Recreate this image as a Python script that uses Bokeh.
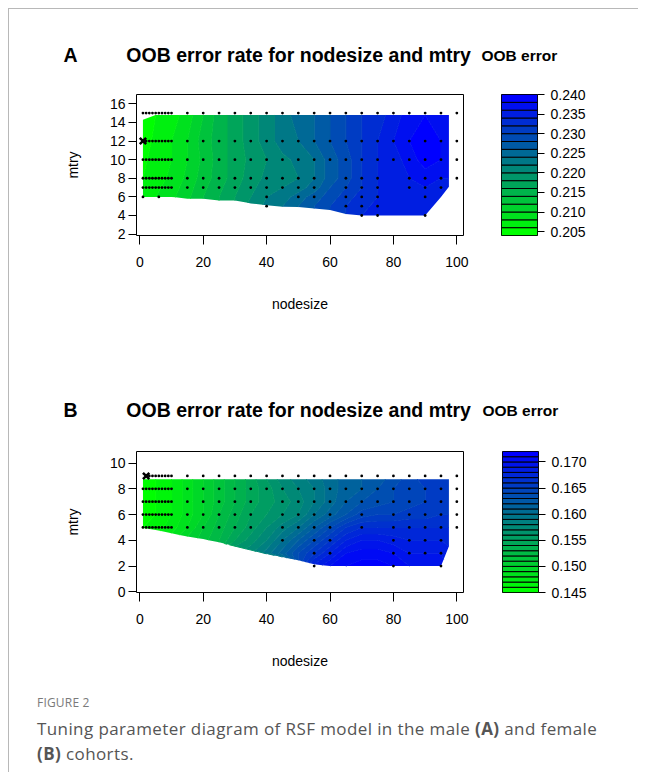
import numpy as np
from bokeh.plotting import figure
from bokeh.layouts import row, column
from bokeh.models import FixedTicker, Div, PrintfTickFormatter
from bokeh.embed import file_html
from bokeh.resources import INLINE

# ---------------- shared ----------------
x_ticks = [0, 20, 40, 60, 80, 100]
dense = [1, 2, 3, 4, 5, 6, 7, 8, 9, 10]
surf_nodesize = [1, 5, 10, 15, 20, 25, 30, 35, 40, 45, 50, 55, 60, 65, 70, 75, 80, 85, 90, 95, 97.5]

# ---------------- Panel A (male) ----------------
a_y_ticks = [2, 4, 6, 8, 10, 12, 14, 16]
a_m15 = dense + [15, 20, 25, 30, 35, 40, 45, 50, 55, 60, 65, 70, 75, 80, 85, 90, 95, 100]
a_m12 = dense + [15, 20, 25, 30, 35, 40, 45, 50, 55, 60, 65, 70, 75, 80, 85, 90, 95, 100]
a_m10 = dense + [15, 20, 25, 30, 35, 40, 45, 50, 55, 60, 65, 70, 75, 80, 85, 90, 95, 100]
a_m8 = dense + [15, 20, 25, 30, 35, 40, 45, 50, 55, 65, 70, 75, 85, 90, 95, 100]
a_m7 = dense + [15, 20, 25, 30, 35, 40, 45, 50, 55, 65, 70, 75, 85, 90, 95]
a_m6 = [1, 6, 40, 50, 55, 65, 70, 75, 90]
a_m5 = [40, 65, 70, 75]
a_m4 = [70, 75, 90]
a_best = [1, 12]
a_levels = [0.204, 0.206, 0.208, 0.210, 0.212, 0.214, 0.216, 0.218, 0.220, 0.222,
            0.224, 0.226, 0.228, 0.230, 0.232, 0.234, 0.236, 0.238, 0.240]
a_leg_ticks = [0.205, 0.210, 0.215, 0.220, 0.225, 0.230, 0.235, 0.240]
a_surf_mtry = [4, 5, 6, 7, 8, 10, 12, 15]
a_fill_bottom = [6.0, 6.0, 6.0, 5.8, 5.8, 5.6, 5.6, 5.3, 5.1, 4.95, 4.9, 4.75, 4.6, 4.15, 4.0, 4.0, 4.0, 4.0, 4.0, 6.0, 7.1]
a_fill_top = [14.3, 14.8, 14.8, 14.8, 14.8, 14.8, 14.8, 14.8, 14.8, 14.8, 14.8, 14.8, 14.8, 14.8, 14.8, 14.8, 14.8, 14.8, 14.8, 14.8, 14.8]
a_err = [
    [207, 208, 209.5, 211.5, 214, 216, 218, 220.5, 222.5, 224, 226, 228, 230, 232, 234, 234.5, 235, 235, 235, 235, 236],
    [207, 208, 209.5, 211.5, 214, 216, 218, 220.5, 222.5, 224, 226, 228, 230, 232, 233.5, 234.5, 235, 235, 235, 235, 236],
    [207, 208, 209.5, 211.5, 214, 216, 218, 220, 222, 223, 225, 227, 229, 231, 233, 234, 235, 235.5, 235, 235, 236],
    [206.5, 207.5, 209, 211, 213.5, 215.5, 217.5, 219.5, 221, 222, 223, 225, 228, 230, 232, 234, 235, 236, 236, 236, 236],
    [206, 207, 208.5, 210.5, 213, 215, 217, 219, 220.5, 221, 222, 224, 227, 229, 232, 234, 235, 236, 237, 236, 236],
    [205.5, 207, 208, 210, 212.5, 215, 217, 218.5, 220, 221.5, 222.5, 224, 227, 229, 232, 234, 235, 237, 239, 238, 237],
    [205, 206.5, 208, 210, 213, 215, 217, 219, 221, 223, 224, 226, 228, 230, 232, 234, 236, 238, 239, 238, 237],
    [205, 206, 207, 209, 212, 215, 217, 219, 221, 223, 225, 226, 228, 230, 232, 233, 235, 237, 238, 238, 237],
]

# ---------------- Panel B (female) ----------------
b_y_ticks = [0, 2, 4, 6, 8, 10]
b_m9 = [2, 3, 4, 5, 6, 7, 8, 9, 10] + [15, 20, 25, 30, 35, 40, 45, 50, 55, 60, 65, 70, 75, 80, 85, 90, 95, 100]
b_m8 = dense + [15, 20, 25, 30, 35, 40, 45, 50, 55, 60, 65, 70, 75, 80, 85, 90, 95, 100]
b_m7 = dense + [15, 20, 25, 30, 35, 45, 50, 55, 60, 65, 70, 75, 80, 85, 90, 95, 100]
b_m6 = dense + [15, 20, 25, 30, 35, 45, 50, 55, 60, 70, 80, 85, 90, 95, 100]
b_m5 = dense + [15, 20, 25, 30, 35, 45, 50, 55, 60, 70, 80, 85, 90, 95, 100]
b_m4 = [45, 55, 60, 80, 85, 90, 95]
b_m3 = [55, 60, 80, 85, 90, 95]
b_m2 = [55, 80, 95]
b_best = [2, 9]
b_levels = [0.145, 0.146, 0.147, 0.148, 0.149, 0.150, 0.151, 0.152, 0.153, 0.154,
            0.155, 0.156, 0.157, 0.158, 0.159, 0.160, 0.161, 0.162, 0.163, 0.164,
            0.165, 0.166, 0.167, 0.168, 0.169, 0.170, 0.171, 0.172]
b_leg_ticks = [0.145, 0.150, 0.155, 0.160, 0.165, 0.170]
b_surf_mtry = [2, 3, 4, 5, 6, 7, 8, 9]
b_fill_bottom = [4.95, 4.8, 4.55, 4.3, 4.1, 3.85, 3.55, 3.25, 2.95, 2.7, 2.45, 2.15, 2.0, 2.0, 2.0, 2.0, 2.0, 2.0, 2.0, 2.0, 3.55]
b_fill_top = [8.75, 8.75, 8.75, 8.75, 8.75, 8.75, 8.75, 8.75, 8.75, 8.75, 8.75, 8.75, 8.75, 8.75, 8.75, 8.75, 8.75, 8.75, 8.75, 8.75, 8.75]
b_err = [
    [146, 146.5, 148, 150, 151.5, 153, 155, 156.5, 158, 160, 164, 168, 170, 171, 171.5, 171.5, 171, 170, 169.5, 169.5, 168],
    [146, 146.5, 148, 150, 151.5, 153, 156, 157.5, 159.5, 161.5, 164, 166, 168, 170, 170.5, 170.5, 170, 169, 169, 169, 168],
    [146, 146.5, 148, 150, 151.5, 153, 155, 156.5, 158, 160, 162, 164, 166, 168, 169, 169, 168.5, 168, 168, 168, 167.5],
    [146, 146.5, 147.5, 149, 151, 152.5, 154, 155.5, 157, 158.5, 160, 162, 164, 166, 167, 167, 167, 167, 167, 167, 167],
    [145.5, 146, 147, 148.5, 150, 152, 153.5, 155, 156, 157, 158, 160, 161.5, 163, 164.5, 165, 165, 165.5, 165.5, 166, 166],
    [145.5, 146, 147, 148.5, 150, 151.5, 153, 154.5, 155.5, 156.5, 157.5, 159, 160.5, 162, 163, 163.5, 164, 164.5, 165, 165.5, 166],
    [145.5, 146, 147, 148.5, 150, 151.5, 153, 154.5, 155.5, 157, 158, 159, 160.5, 161.5, 162, 163, 164, 164.5, 165, 165.5, 166],
    [145.5, 146, 147, 148.5, 150, 151.5, 153, 154.5, 156, 157.5, 158.5, 159.5, 160.5, 161.5, 162, 162.5, 163.5, 164.5, 165.5, 166, 166],
]

FONT = "Liberation Sans"
NBSP = "\u00a0"


def green_blue(n):
    return ["#%02x%02x%02x" % (0, round(255 * (1 - i / (n - 1))), round(255 * i / (n - 1))) for i in range(n)]


def rows_to_points(rows):
    xs, ys = [], []
    for m, nodes in rows:
        xs += nodes
        ys += [m] * len(nodes)
    return xs, ys


def main_panel(width, height, left, top, bottom, y_range, y_ticks, rows, best, surf_mtry, fb, ft, err,
               levels, letter, title_standoff):
    p = figure(width=width, height=height, x_range=(-1.04, 102.1), y_range=y_range,
               output_backend="svg", toolbar_location=None,
               min_border_left=left, min_border_right=15, min_border_top=top, min_border_bottom=bottom)
    p.background_fill_color = "white"
    p.border_fill_color = "white"
    p.outline_line_color = "black"
    p.outline_line_width = 1
    p.xgrid.visible = False
    p.ygrid.visible = False

    X = np.tile(np.array(surf_nodesize, dtype=float), (len(surf_mtry), 1))
    Y = np.clip(np.array(surf_mtry, dtype=float)[:, None], np.array(fb)[None, :], np.array(ft)[None, :])
    Z = np.array(err, dtype=float) / 1000.0
    pal = green_blue(len(levels) - 1)
    p.contour(X, Y, Z, levels=levels, fill_color=pal, line_color=[pal[0]] + pal, line_width=1)

    xs, ys = rows_to_points(rows)
    p.scatter(xs, ys, marker="circle", size=2.8, color="black", line_color=None)
    p.scatter([best[0]], [best[1]], marker="x", size=9, line_width=2.5, color="black")

    for ax in (p.xaxis[0], p.yaxis[0]):
        ax.axis_line_color = None
        ax.major_tick_line_color = "black"
        ax.major_tick_in = 0
        ax.minor_tick_line_color = None
        ax.major_label_text_font = FONT
        ax.major_label_text_font_size = "14px"
        ax.major_label_text_color = "black"
        ax.axis_label_text_font = FONT
        ax.axis_label_text_font_size = "14px"
        ax.axis_label_text_font_style = "normal"
        ax.axis_label_text_color = "black"
    p.xaxis.ticker = FixedTicker(ticks=x_ticks)
    p.xaxis.major_tick_out = 9
    p.xaxis.major_label_standoff = 12
    p.xaxis.axis_label = "nodesize"
    p.xaxis.axis_label_standoff = 26
    p.yaxis.ticker = FixedTicker(ticks=y_ticks)
    p.yaxis.major_tick_out = 8
    p.yaxis.major_label_standoff = 3
    p.yaxis.axis_label = "mtry"
    p.yaxis.axis_label_standoff = 26
    p.yaxis.major_label_orientation = "horizontal"

    p.title.text = letter + NBSP * 9 + "OOB error rate for nodesize and mtry"
    p.title.align = "left"
    p.title.offset = -73
    p.title.standoff = title_standoff
    p.title.text_font = FONT
    p.title.text_font_style = "bold"
    p.title.text_font_size = "19.5px"
    p.title.text_color = "black"
    return p


def legend_panel(height, top, bottom, left, levels, ticks, title_standoff):
    p = figure(width=160, height=height, x_range=(0, 1), y_range=(levels[0], levels[-1]),
               output_backend="svg", toolbar_location=None, y_axis_location="right",
               min_border_left=left, min_border_right=160 - left - 36,
               min_border_top=top, min_border_bottom=bottom)
    p.outline_line_color = "black"
    p.xgrid.visible = False
    p.ygrid.visible = False
    p.xaxis.visible = False
    pal = green_blue(len(levels) - 1)
    p.quad(left=0, right=1, bottom=levels[:-1], top=levels[1:], fill_color=pal,
           line_color="black", line_width=1)
    ax = p.yaxis[0]
    ax.ticker = FixedTicker(ticks=ticks)
    ax.formatter = PrintfTickFormatter(format="%.3f")
    ax.axis_line_color = None
    ax.major_tick_in = 0
    ax.major_tick_out = 7
    ax.minor_tick_line_color = None
    ax.major_label_standoff = 6
    ax.major_label_text_font = FONT
    ax.major_label_text_font_size = "14px"
    ax.major_label_text_color = "black"
    p.title.text = "OOB error"
    p.title.align = "left"
    p.title.offset = -20
    p.title.standoff = title_standoff
    p.title.text_font = FONT
    p.title.text_font_style = "bold"
    p.title.text_font_size = "15.5px"
    p.title.text_color = "black"
    return p


pA = main_panel(469, 321, 127, 85, 95, (1.85, 17.0), a_y_ticks,
                [(15, a_m15), (12, a_m12), (10, a_m10), (8, a_m8), (7, a_m7), (6, a_m6), (5, a_m5), (4, a_m4)],
                a_best, a_surf_mtry, a_fill_bottom, a_fill_top, a_err, a_levels, "A", 58)
lA = legend_panel(321, 85, 95, 23, a_levels, a_leg_ticks, 62)

pB = main_panel(469, 350, 127, 121, 88, (-0.05, 10.9), b_y_ticks,
                [(9, b_m9), (8, b_m8), (7, b_m7), (6, b_m6), (5, b_m5), (4, b_m4), (3, b_m3), (2, b_m2)],
                b_best, b_surf_mtry, b_fill_bottom, b_fill_top, b_err, b_levels, "B", 62)
lB = legend_panel(350, 121, 88, 24, b_levels, b_leg_ticks, 66)

caption = Div(text=(
    '<div style="font-family:\'Open Sans\';color:#7a7a7a;font-size:12px;letter-spacing:0.2px;'
    'line-height:16px;margin:15px 0 0 28px;">FIGURE 2</div>'
    '<div style="font-family:\'Open Sans\';color:#555555;font-size:17px;letter-spacing:0.4px;line-height:25px;'
    'margin:5px 0 0 28px;white-space:nowrap;">Tuning parameter diagram of RSF model in the male '
    '<b>(A)</b> and female<br><b>(B)</b> cohorts.</div>'),
    width=629, height=92, margin=0)

layout = column(row(pA, lA), row(pB, lB), caption, margin=(8, 0, 0, 8),
                styles={"border-top": "1px solid #b8b8b8", "border-left": "1px solid #b8b8b8"})

open("out.html", "w").write(file_html(layout, INLINE))
